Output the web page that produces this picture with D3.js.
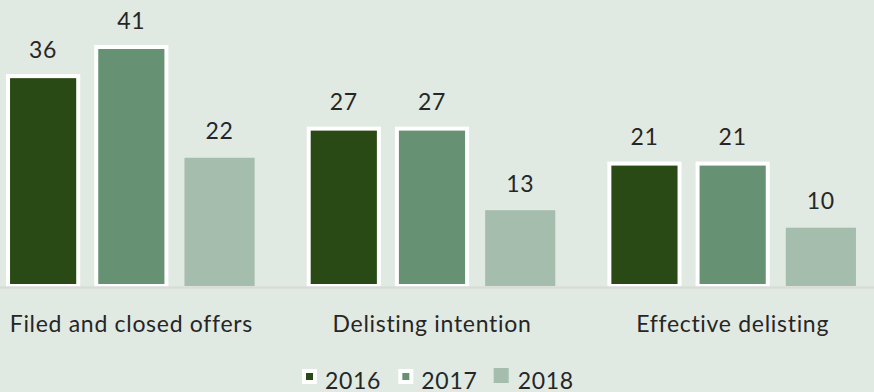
<!DOCTYPE html>
<html>
<head>
<meta charset="utf-8">
<script src="https://cdn.jsdelivr.net/npm/d3@7"></script>
<style>
  body { margin: 0; background: #e1e9e3; }
  svg { display: block; }
  text { font-family: Lato, "Open Sans", sans-serif; fill: #262626; letter-spacing: 0.7px; }
</style>
</head>
<body>
<svg id="chart"></svg>
<script>
var categories = ["Filed and closed offers", "Delisting intention", "Effective delisting"];
var years = ["2016", "2017", "2018"];
var values2016 = [36, 27, 21];
var values2017 = [41, 27, 21];
var values2018 = [22, 13, 10];

var colors = ["#294a14", "#669173", "#a5bdad"];
var outlined = [true, true, false];

var width = 874, height = 392;
var baseY = 286;

var svg = d3.select("#chart").attr("width", width).attr("height", height);

var series = [values2016, values2017, values2018];
var data = categories.map(function(c, i) {
    return { cat: c, vals: years.map(function(y, j) { return { year: y, idx: j, v: series[j][i] }; }) };
});

var x0 = d3.scaleBand().domain(categories).range([-19, 883]).paddingInner(0.12).paddingOuter(0.06);
var x1 = d3.scaleBand().domain(years).range([0, x0.bandwidth()]).paddingInner(0.2045).paddingOuter(0.102);
var y = d3.scaleLinear().domain([0, 41]).range([baseY, 47]);

var groups = svg.selectAll("g.grp")
    .data(data)
    .enter()
    .append("g")
    .attr("class", "grp")
    .attr("transform", function(d) { return "translate(" + x0(d.cat) + ",0)"; });

groups.selectAll("rect")
    .data(function(d) { return d.vals; })
    .enter()
    .append("rect")
    .attr("x", function(d) { return x1(d.year); })
    .attr("y", function(d) { return y(d.v); })
    .attr("width", x1.bandwidth())
    .attr("height", function(d) { return baseY - y(d.v); })
    .attr("fill", function(d) { return colors[d.idx]; })
    .attr("stroke", function(d) { return outlined[d.idx] ? "#ffffff" : "none"; })
    .attr("stroke-width", 4);

groups.selectAll("text.val")
    .data(function(d) { return d.vals; })
    .enter()
    .append("text")
    .attr("class", "val")
    .attr("x", function(d) { return x1(d.year) + x1.bandwidth() / 2; })
    .attr("y", function(d) { return y(d.v) - 18.5; })
    .attr("text-anchor", "middle")
    .style("font-size", "23px")
    .text(function(d) { return d.v; });

// axis line
svg.append("line")
    .attr("x1", 0).attr("x2", width)
    .attr("y1", baseY + 1.5).attr("y2", baseY + 1.5)
    .attr("stroke", "#d8dcd9")
    .attr("stroke-width", 2.5);

svg.selectAll("text.cat")
    .data(categories)
    .enter()
    .append("text")
    .attr("class", "cat")
    .attr("x", function(d) { return x0(d) + x0.bandwidth() / 2; })
    .attr("y", 331.5)
    .attr("text-anchor", "middle")
    .style("font-size", "23px")
    .text(function(d) { return d; });

// legend
var legendX = d3.scaleBand().domain(years).range([301, 590]);
var leg = svg.selectAll("g.leg")
    .data(years)
    .enter()
    .append("g")
    .attr("class", "leg")
    .attr("transform", function(d) { return "translate(" + legendX(d) + ",0)"; });

leg.append("rect")
    .attr("x", function(d, i) { return outlined[i] ? 3 : 0; })
    .attr("y", function(d, i) { return outlined[i] ? 371 : 368; })
    .attr("width", function(d, i) { return outlined[i] ? 11 : 15; })
    .attr("height", function(d, i) { return outlined[i] ? 11 : 15; })
    .attr("fill", function(d, i) { return colors[i]; })
    .attr("stroke", function(d, i) { return outlined[i] ? "#ffffff" : "none"; })
    .attr("stroke-width", 4);

leg.append("text")
    .attr("x", 24)
    .attr("y", 388.5)
    .style("font-size", "23px")
    .text(function(d) { return d; });
</script>
</body>
</html>
